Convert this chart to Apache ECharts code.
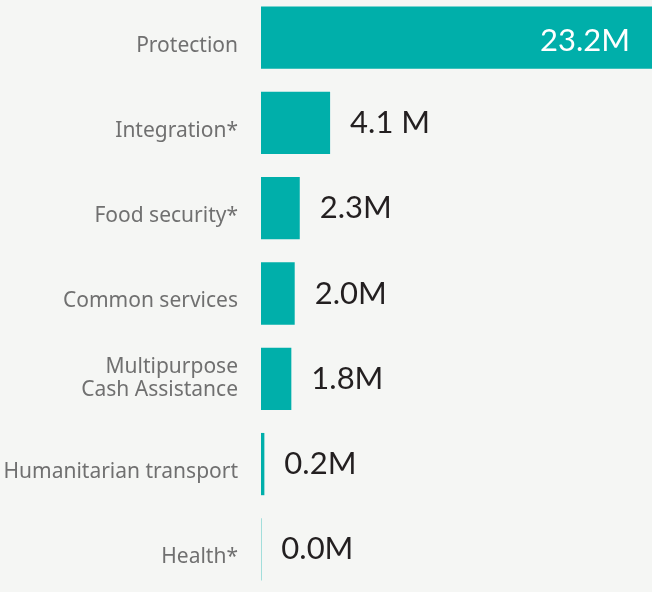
<!DOCTYPE html>
<html>
<head>
<meta charset="utf-8">
<script src="https://cdn.jsdelivr.net/npm/echarts@6/dist/echarts.min.js"></script>
<style>
    html, body { margin: 0; padding: 0; background: #f5f6f4; overflow: hidden; }
    #chart { position: relative; top: -5px; width: 652px; height: 597px; }
</style>
</head>
<body>
<div id="chart"></div>
<script>
var categories = ['Protection', 'Integration*', 'Food security*', 'Common services',
    'Multipurpose\nCash Assistance', 'Humanitarian transport', 'Health*'];
var funding = [23.2, 4.1, 2.3, 2.0, 1.8, 0.2, 0.02];
var fundingLabels = ['23.2M', '4.1 M', '2.3M', '2.0M', '1.8M', '0.2M', '0.0M'];

var chart = echarts.init(document.getElementById('chart'));

// first bar carries its label inside, in white
var seriesData = funding.map(function (v, i) {
    var item = { value: v };
    if (i === 0) {
        item.label = { position: 'insideRight', distance: 22, color: '#fff', offset: [0, 3] };
    }
    return item;
});

var option = {
    backgroundColor: '#f5f6f4',
    grid: {
        left: 261,
        right: 0,
        top: 0,
        bottom: 0
    },
    xAxis: {
        type: 'value',
        min: 0,
        max: 23.2,
        show: false
    },
    yAxis: {
        type: 'category',
        inverse: true,
        data: categories,
        axisLine: { show: false },
        axisTick: { show: false },
        splitLine: { show: false },
        axisLabel: {
            margin: 23,
            color: '#707070',
            fontSize: 21,
            fontFamily: 'Noto Sans',
            lineHeight: 23,
            formatter: function (value) {
                if (value.indexOf('\n') >= 0) return value;
                return '{a|' + value + '}';
            },
            rich: {
                a: {
                    fontSize: 21,
                    fontFamily: 'Noto Sans',
                    color: '#707070',
                    padding: [16, 0, 0, 0]
                }
            }
        }
    },
    series: [
        {
            type: 'bar',
            data: seriesData,
            barCategoryGap: '27%',
            itemStyle: { color: '#00afaa' },
            label: {
                show: true,
                position: 'right',
                distance: 20,
                color: '#231f20',
                fontSize: 31,
                fontFamily: 'Lato',
                formatter: function (p) {
                    return fundingLabels[p.dataIndex];
                }
            },
            silent: true
        }
    ]
};

chart.setOption(option);
</script>
</body>
</html>
